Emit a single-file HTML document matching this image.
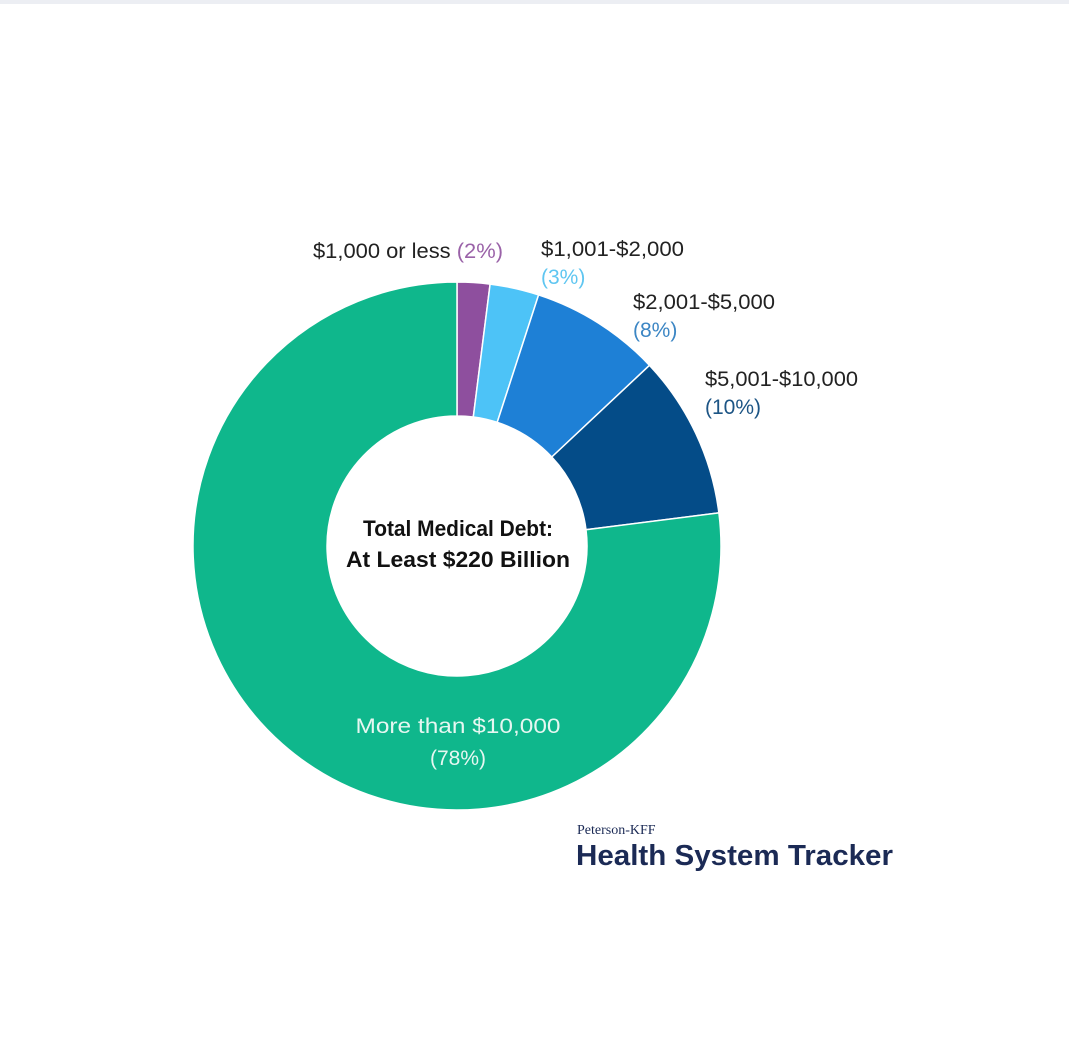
<!DOCTYPE html>
<html><head><style>
html,body{margin:0;padding:0;background:#fff;}
body{width:1069px;height:1053px;position:relative;overflow:hidden;font-family:"Liberation Sans","DejaVu Sans",sans-serif;}
</style></head><body>
<svg width="1069" height="1053" viewBox="0 0 1069 1053" xmlns="http://www.w3.org/2000/svg">
<rect x="0" y="0" width="1069" height="1053" fill="#fff"/>
<rect x="0" y="0" width="1069" height="4" fill="#eceef3"/>
<g stroke="#fff" stroke-width="1.5">
<path d="M457,282 A264,264 0 0 1 490.1,284.1 L473.3,417 A130,130 0 0 0 457,416 Z" fill="#8e4f9e"/>
<path d="M490.1,284.1 A264,264 0 0 1 538.6,294.9 L497.2,422.4 A130,130 0 0 0 473.3,417 Z" fill="#4dc3f7"/>
<path d="M538.6,294.9 A264,264 0 0 1 649.5,365.3 L551.8,457 A130,130 0 0 0 497.2,422.4 Z" fill="#1e80d6"/>
<path d="M649.5,365.3 A264,264 0 0 1 718.9,512.9 L586,529.7 A130,130 0 0 0 551.8,457 Z" fill="#044c88"/>
<path d="M718.9,512.9 A264,264 0 1 1 457,282 L457,416 A130,130 0 1 0 586,529.7 Z" fill="#0fb78c"/>
</g>
<g font-size="21" fill="#222">
<text x="313" y="258" textLength="190" lengthAdjust="spacingAndGlyphs">$1,000 or less <tspan fill="#9a62a8">(2%)</tspan></text>
<text x="541" y="256" textLength="143" lengthAdjust="spacingAndGlyphs">$1,001-$2,000</text>
<text x="541" y="284" fill="#5fc6f1">(3%)</text>
<text x="633" y="309" textLength="142" lengthAdjust="spacingAndGlyphs">$2,001-$5,000</text>
<text x="633" y="337" fill="#3c86c4">(8%)</text>
<text x="705" y="386" textLength="153" lengthAdjust="spacingAndGlyphs">$5,001-$10,000</text>
<text x="705" y="414" fill="#1d5585">(10%)</text>
</g>
<g font-size="22" font-weight="bold" fill="#111" text-anchor="middle">
<text x="458" y="536" textLength="190" lengthAdjust="spacingAndGlyphs">Total Medical Debt:</text>
<text x="458" y="567" textLength="224" lengthAdjust="spacingAndGlyphs">At Least $220 Billion</text>
</g>
<g font-size="21" fill="#e6f7f1" text-anchor="middle">
<text x="458" y="733" textLength="205" lengthAdjust="spacingAndGlyphs">More than $10,000</text>
<text x="458" y="765">(78%)</text>
</g>
<text x="577" y="834" font-family="Liberation Serif,serif" font-size="14" fill="#1b2a55">Peterson-KFF</text>
<text x="576" y="865" font-size="29" font-weight="bold" fill="#1b2a55" textLength="317" lengthAdjust="spacingAndGlyphs">Health System Tracker</text>
</svg>
</body></html>
